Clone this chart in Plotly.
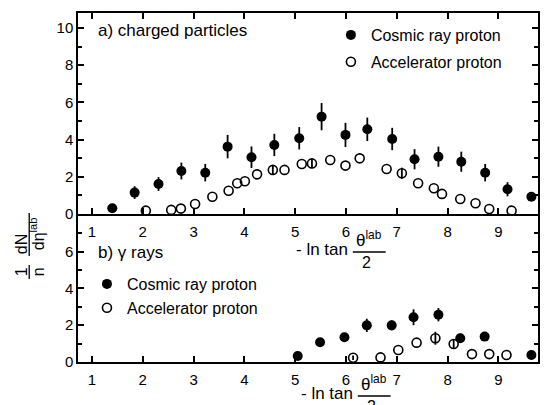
import plotly.graph_objects as go
from plotly.subplots import make_subplots

# ---------------- data ----------------
# a) charged particles
a_cosmic_x = [1.40, 1.84, 2.31, 2.76, 3.23, 3.67, 4.14, 4.59, 5.08, 5.52, 5.99, 6.42, 6.91, 7.35, 7.82, 8.27, 8.74, 9.18, 9.65]
a_cosmic_y = [0.31, 1.15, 1.61, 2.31, 2.22, 3.62, 3.05, 3.71, 4.07, 5.23, 4.25, 4.55, 4.03, 2.94, 3.08, 2.81, 2.22, 1.33, 0.93]
a_cosmic_err = [0.08, 0.34, 0.37, 0.45, 0.47, 0.63, 0.58, 0.60, 0.60, 0.73, 0.65, 0.63, 0.60, 0.54, 0.54, 0.54, 0.47, 0.38, 0.1]

a_accel_x = [2.06, 2.56, 2.75, 3.03, 3.37, 3.69, 3.86, 4.01, 4.25, 4.56, 4.79, 5.13, 5.33, 5.69, 5.99, 6.27, 6.80, 7.10, 7.42, 7.73, 7.89, 8.25, 8.55, 8.82, 9.26]
a_accel_y = [0.18, 0.22, 0.29, 0.54, 0.93, 1.25, 1.65, 1.76, 2.13, 2.37, 2.37, 2.69, 2.72, 2.90, 2.60, 2.99, 2.42, 2.19, 1.65, 1.38, 1.08, 0.81, 0.58, 0.27, 0.18]
a_accel_err = [0, 0, 0, 0, 0, 0, 0, 0, 0, 0.22, 0, 0, 0.22, 0, 0, 0, 0, 0.3, 0, 0, 0, 0, 0, 0, 0]

# b) gamma rays
b_cosmic_x = [5.05, 5.49, 5.97, 6.41, 6.90, 7.33, 7.82, 8.25, 8.73, 9.65]
b_cosmic_y = [0.33, 1.07, 1.34, 1.99, 1.99, 2.43, 2.57, 1.29, 1.38, 0.38]
b_cosmic_err = [0, 0.1, 0.1, 0.36, 0.27, 0.43, 0.36, 0.25, 0.1, 0]

b_accel_x = [6.14, 6.68, 7.03, 7.39, 7.76, 8.12, 8.48, 8.82, 9.16]
b_accel_y = [0.23, 0.25, 0.65, 1.05, 1.29, 0.98, 0.43, 0.43, 0.38]
b_accel_err = [0.12, 0, 0, 0, 0.35, 0.22, 0, 0, 0]

x_ticks = [1, 2, 3, 4, 5, 6, 7, 8, 9]

FONT = "Liberation Sans"
# ---------------- figure ----------------
fig = make_subplots(rows=2, cols=1, row_heights=[201, 148], vertical_spacing=0)

err_style = dict(type="data", width=0, thickness=1.8, color="black")
filled = dict(symbol="circle", size=10, color="black")
opened = dict(symbol="circle-open", size=9, color="black", line=dict(width=1.6))

fig.add_trace(go.Scatter(x=a_cosmic_x, y=a_cosmic_y, mode="markers", marker=filled,
                         error_y=dict(array=a_cosmic_err, **err_style), cliponaxis=False,
                         name="Cosmic ray proton", legend="legend", legendgroup="a1"), row=1, col=1)
fig.add_trace(go.Scatter(x=a_accel_x, y=a_accel_y, mode="markers", marker=opened,
                         error_y=dict(array=a_accel_err, **err_style), cliponaxis=False,
                         name="Accelerator proton", legend="legend", legendgroup="a2"), row=1, col=1)
fig.add_trace(go.Scatter(x=b_cosmic_x, y=b_cosmic_y, mode="markers", marker=filled,
                         error_y=dict(array=b_cosmic_err, **err_style), cliponaxis=False,
                         name="Cosmic ray proton", legend="legend2", legendgroup="b1"), row=2, col=1)
fig.add_trace(go.Scatter(x=b_accel_x, y=b_accel_y, mode="markers", marker=opened,
                         error_y=dict(array=b_accel_err, **err_style), cliponaxis=False,
                         name="Accelerator proton", legend="legend2", legendgroup="b2"), row=2, col=1)

L, R, T, B = 78, 540, 13, 362
def PX(p):
    return (p - L) / (R - L)
def PY(p):
    return (B - p) / (B - T)

xrange_ = [0.725, 9.78]
axis_common = dict(showgrid=False, zeroline=False, showline=True, linecolor="black", linewidth=1.5,
                   ticks="inside", ticklen=6, tickwidth=1.5, tickcolor="black",
                   tickfont=dict(family=FONT, size=15, color="black"))

fig.update_xaxes(range=xrange_, tickvals=x_ticks, mirror="ticks", showticklabels=True,
                 ticklabelstandoff=3, **axis_common, row=1, col=1)
fig.update_xaxes(range=xrange_, tickvals=x_ticks, mirror=False, showticklabels=True,
                 ticklabelstandoff=3, **axis_common, row=2, col=1)
minor = dict(dtick=1, ticks="inside", ticklen=4, tickwidth=1.5, tickcolor="black", showgrid=False)
fig.update_yaxes(range=[0, 10.8], tickvals=[0, 2, 4, 6, 8, 10], mirror="ticks", minor=minor,
                 **axis_common, row=1, col=1)
fig.update_yaxes(range=[0, 8.04], tickvals=[0, 2, 4, 6], mirror="ticks", minor=minor,
                 **axis_common, row=2, col=1)

ann = []
def text(px, py, s, xa="left", ya="middle", size=17, angle=0):
    ann.append(dict(x=PX(px), y=PY(py), xref="paper", yref="paper", text=s, showarrow=False,
                    xanchor=xa, yanchor=ya, textangle=angle,
                    font=dict(family=FONT, size=size, color="black")))

text(96, 30, "a) charged particles")
text(96, 253, "b) γ rays")

# x-axis titles
text(351, 249, "- ln tan", xa="right")
text(370, 252, "θ<sup>lab</sup>", xa="center", ya="bottom")
text(368, 252, "2", xa="center", ya="top", size=16)
text(356, 393, "- ln tan", xa="right")
text(375, 396, "θ<sup>lab</sup>", xa="center", ya="bottom")
text(373, 396, "2", xa="center", ya="top", size=16)

# y-axis title (rotated fraction)
text(21, 272, "1", xa="center", angle=-90, size=16)
text(38, 272, "n", xa="center", angle=-90, size=16)
text(21, 244, "dN", xa="center", angle=-90, size=16)
text(37, 234, "dη<sup>lab</sup>", xa="center", angle=-90, size=16)

shapes = [
    dict(type="line", xref="paper", yref="paper", x0=PX(354), x1=PX(387), y0=PY(252), y1=PY(252),
         line=dict(color="black", width=1.5)),
    dict(type="line", xref="paper", yref="paper", x0=PX(359), x1=PX(392), y0=PY(396), y1=PY(396),
         line=dict(color="black", width=1.5)),
    dict(type="line", xref="paper", yref="paper", x0=PX(29), x1=PX(29), y0=PY(265), y1=PY(279),
         line=dict(color="black", width=1.3)),
    dict(type="line", xref="paper", yref="paper", x0=PX(29), x1=PX(29), y0=PY(213), y1=PY(256),
         line=dict(color="black", width=1.3)),
]

fig.update_layout(
    width=546, height=405,
    margin=dict(l=L, r=546 - R, t=T, b=405 - B),
    paper_bgcolor="white", plot_bgcolor="white",
    annotations=ann, shapes=shapes,
    legend=dict(x=PX(332), y=PY(18), xanchor="left", yanchor="top", bgcolor="rgba(0,0,0,0)",
                font=dict(family=FONT, size=16, color="black"), tracegroupgap=3),
    legend2=dict(x=PX(87), y=PY(267), xanchor="left", yanchor="top", bgcolor="rgba(0,0,0,0)",
                 font=dict(family=FONT, size=16, color="black"), tracegroupgap=0),
)

fig.write_html("out.html")
